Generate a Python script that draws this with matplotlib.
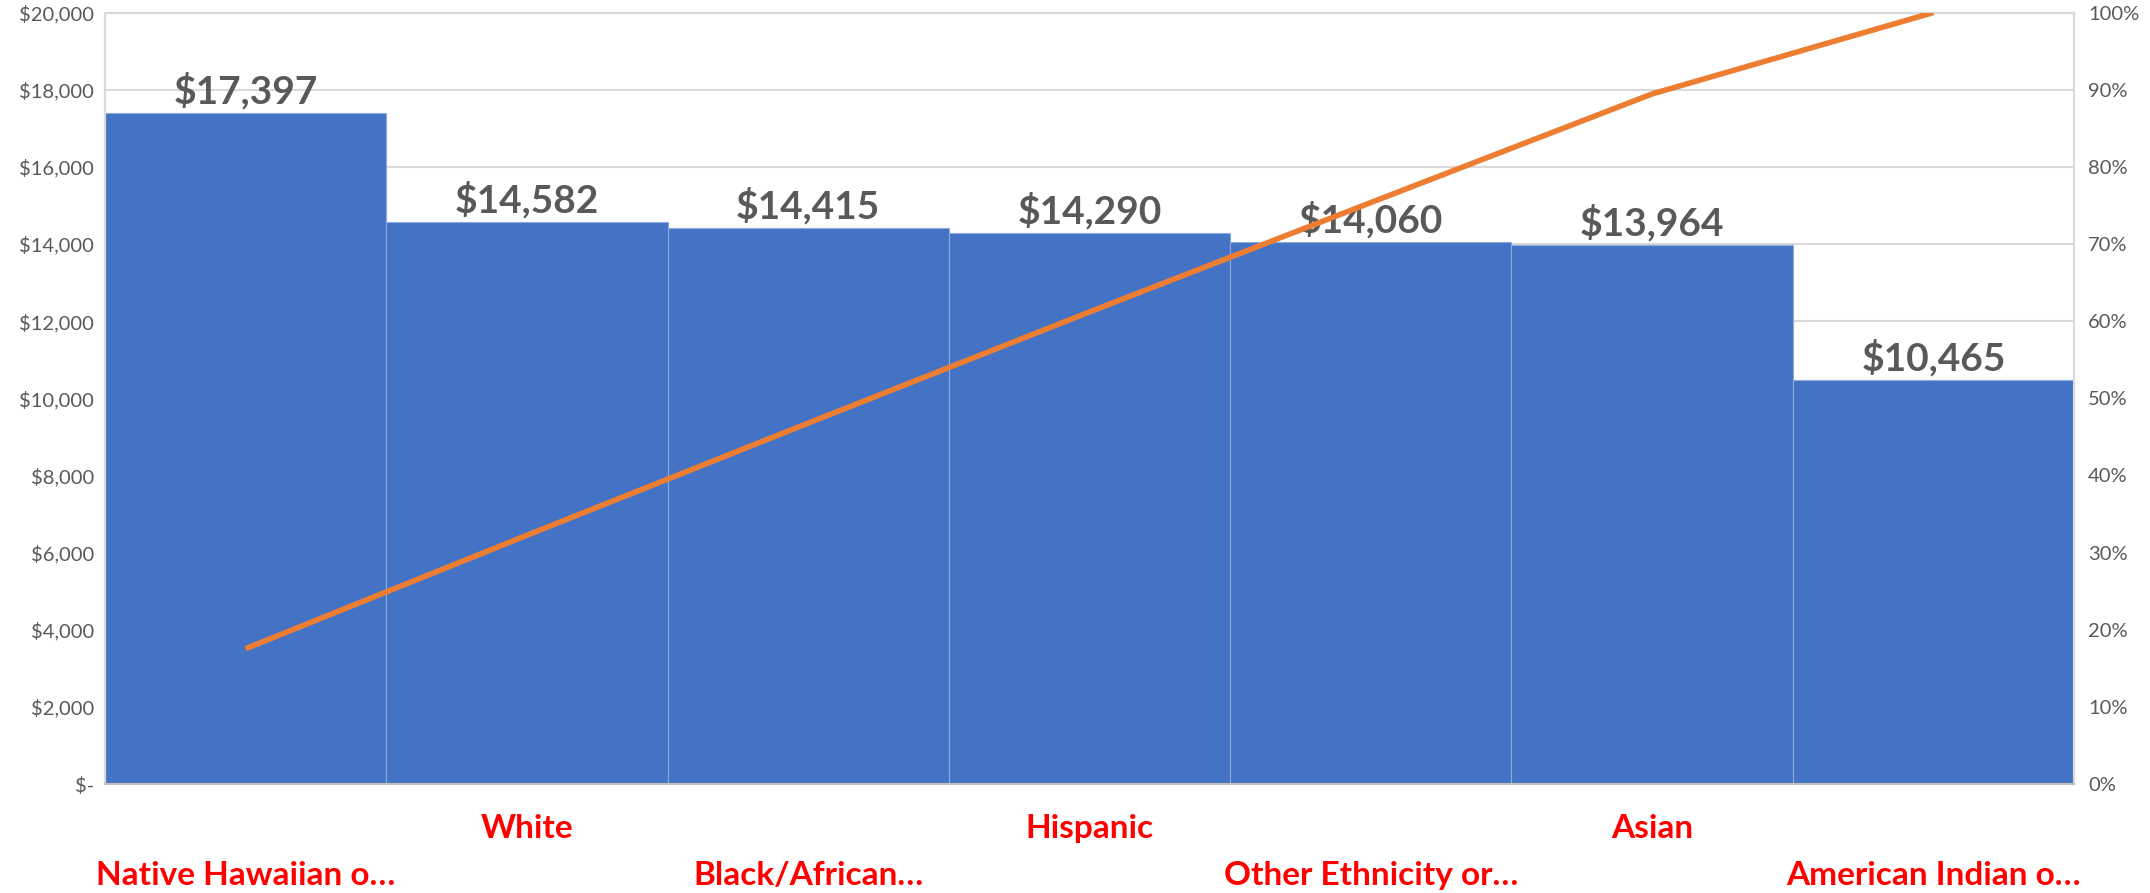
import matplotlib.pyplot as plt
import numpy as np
from matplotlib.ticker import FuncFormatter, MultipleLocator

categories = [
    "Native Hawaiian o…",
    "White",
    "Black/African…",
    "Hispanic",
    "Other Ethnicity or…",
    "Asian",
    "American Indian o…",
]
amounts = [17397, 14582, 14415, 14290, 14060, 13964, 10465]

BAR = "#4472C4"
LINE = "#ED7D31"
GREY = "#595959"
GRID = "#D9D9D9"

plt.rcParams["font.family"] = ["Lato", "DejaVu Sans"]

cum_pct = np.cumsum(amounts) / np.sum(amounts) * 100
x = np.arange(len(categories))

fig = plt.figure(figsize=(21.5, 8.93), dpi=100)
ax = fig.add_axes([0.0488, 0.122, 0.9159, 0.864])
ax2 = ax.twinx()

ax.bar(x, amounts, width=1.0, color=BAR, edgecolor="#8EA9DB", linewidth=0.8, zorder=2)
ax.set_xlim(-0.5, len(categories) - 0.5)
ax.set_ylim(0, 20000)
ax.yaxis.set_major_locator(MultipleLocator(2000))
ax.yaxis.set_major_formatter(FuncFormatter(lambda v, _: "$-" if v == 0 else f"${v:,.0f}"))
ax.grid(axis="y", color=GRID, linewidth=1.5, zorder=0)
ax.set_axisbelow(True)
ax.set_xticks([])
ax.tick_params(axis="y", length=0, labelsize=14.5, labelcolor=GREY, pad=8)

for xi, v in zip(x, amounts):
    ax.annotate(f"${v:,}", (xi, v), xytext=(0, 2.5), textcoords="offset points",
                ha="center", va="bottom", fontsize=28, fontweight="bold", color=GREY, zorder=4)

for i, (xi, name) in enumerate(zip(x, categories)):
    off = -44 if i % 2 == 1 else -91
    ax.annotate(name, (xi, 0), xycoords=("data", "axes fraction"),
                xytext=(0, off * 0.72), textcoords="offset points",
                ha="center", va="center", fontsize=24, fontweight="bold", color="#FF0000")

ax2.plot(x, cum_pct, color=LINE, linewidth=4, solid_capstyle="butt", zorder=5)
ax2.set_ylim(0, 100)
ax2.yaxis.set_major_locator(MultipleLocator(10))
ax2.yaxis.set_major_formatter(FuncFormatter(lambda v, _: f"{v:.0f}%"))
ax2.tick_params(axis="y", length=0, labelsize=14.5, labelcolor=GREY, pad=10)

for a in (ax, ax2):
    for side in ("top", "left", "right"):
        a.spines[side].set_color(GRID)
        a.spines[side].set_linewidth(1.5)
    a.spines["bottom"].set_color("#BFBFBF")
    a.spines["bottom"].set_linewidth(1.5)
ax.set_zorder(ax2.get_zorder() - 1)
ax2.patch.set_visible(False)

fig.savefig("out.png", dpi=100)
